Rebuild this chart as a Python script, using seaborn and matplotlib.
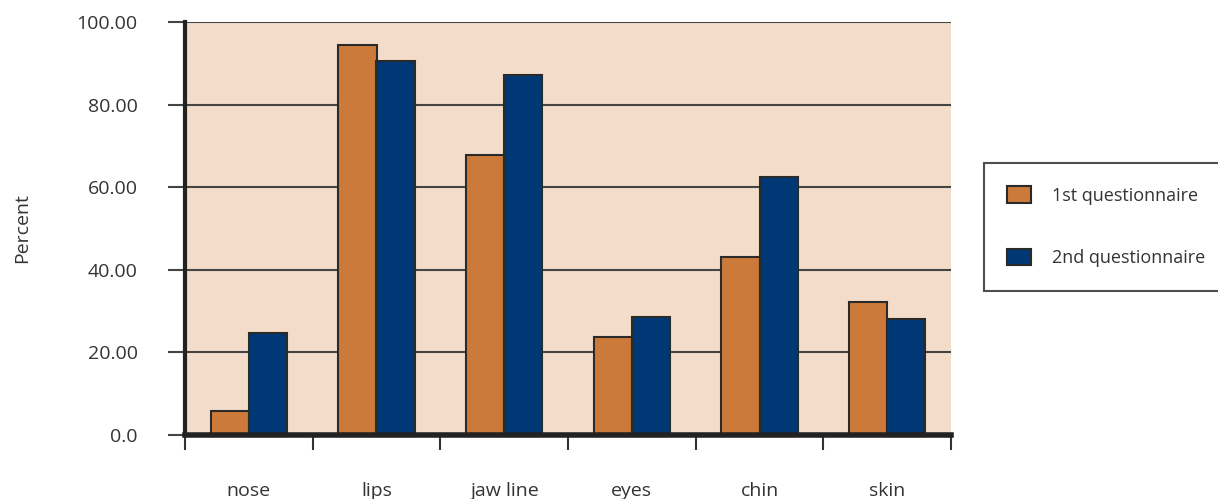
import matplotlib
matplotlib.use("Agg")
import matplotlib.pyplot as plt
import seaborn as sns
import pandas as pd
import numpy as np
from matplotlib.ticker import FixedLocator, NullFormatter

categories = ["nose", "lips", "jaw line", "eyes", "chin", "skin"]
first_q = [5.8, 94.4, 67.8, 23.7, 43.1, 32.2]
second_q = [24.7, 90.6, 87.2, 28.6, 62.5, 28.1]
series_names = ["1st questionnaire", "2nd questionnaire"]
y_ticks = [0, 20, 40, 60, 80, 100]
y_tick_labels = ["0.0", "20.00", "40.00", "60.00", "80.00", "100.00"]

df = pd.DataFrame({
    "category": categories * 2,
    "value": first_q + second_q,
    "series": [series_names[0]] * len(categories) + [series_names[1]] * len(categories),
})

sns.set_theme(style="white")
plt.rcParams["font.family"] = ["Open Sans", "DejaVu Sans"]
text_color = "#333333"
fs = 14

fig = plt.figure(figsize=(12.18, 4.99), dpi=100)
ax = fig.add_axes([185/1218, 1-435/499, (951-185)/1218, (435-22)/499])
ax.set_facecolor("#F3DCC9")

sns.barplot(data=df, x="category", y="value", hue="series", order=categories,
            hue_order=series_names, palette=["#CC7A3A", "#003876"], saturation=1,
            width=0.6, edgecolor="#2a2a2a", linewidth=1.5, ax=ax, legend=True, zorder=3)

ax.set_ylim(0, 100)
ax.set_xlim(-0.5, len(categories) - 0.5)
ax.set_yticks(y_ticks)
ax.set_yticklabels(y_tick_labels, color=text_color, fontsize=fs)
ax.yaxis.grid(True, color="#444444", linewidth=1.5, zorder=1)
ax.set_axisbelow(True)
ax.tick_params(axis="y", direction="out", length=12, width=1.5, color="#444444", pad=22, left=True)

ax.set_xticks(range(len(categories)))
ax.set_xticklabels(categories, color=text_color, fontsize=fs)
ax.tick_params(axis="x", which="major", length=0, pad=34)
ax.xaxis.set_minor_locator(FixedLocator(np.arange(-0.5, len(categories), 1.0)))
ax.xaxis.set_minor_formatter(NullFormatter())
ax.tick_params(axis="x", which="minor", direction="out", length=11, width=1.5, color="#333333", bottom=True)

ax.set_xlabel("")
ax.set_ylabel("Percent", color=text_color, fontsize=fs, labelpad=33)

for s in ["top", "right"]:
    ax.spines[s].set_visible(False)
ax.spines["left"].set_linewidth(3)
ax.spines["left"].set_color("#222222")
ax.spines["bottom"].set_linewidth(4)
ax.spines["bottom"].set_color("#222222")
ax.spines["bottom"].set_zorder(5)

handles, labels = ax.get_legend_handles_labels()
ax.get_legend().remove()
lfs = 13
leg = fig.legend(handles, labels, loc="upper left", bbox_to_anchor=(984/1218, 1-163/499),
                 frameon=True, fancybox=False, edgecolor="#222222", fontsize=lfs,
                 labelspacing=2.45, handlelength=1.28, handleheight=1.0, handletextpad=1.2,
                 borderpad=1.3, borderaxespad=0)
leg.get_frame().set_linewidth(1.5)
for t in leg.get_texts():
    t.set_color(text_color)

fig.savefig("out.png", dpi=100)
